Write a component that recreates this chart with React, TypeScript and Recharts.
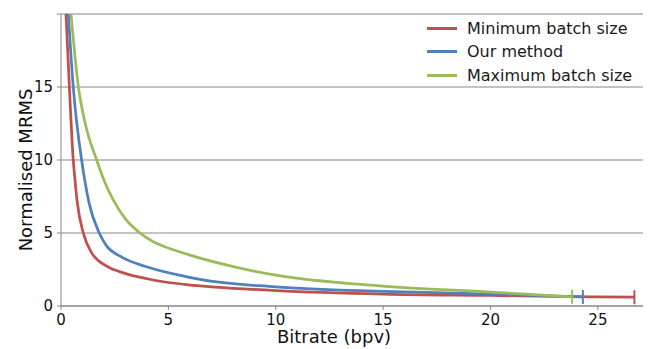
import React from 'react';
import { LineChart, Line, XAxis, YAxis, CartesianGrid, Legend, Label } from 'recharts';

const seriesNames = ['Minimum batch size', 'Our method', 'Maximum batch size'];
const seriesColors = ['#C0504D', '#4F81BD', '#9BBB59'];

const minBitrate = [0.233, 0.39, 0.57, 0.65, 0.76, 1.04, 1.43, 2.13, 2.9, 4.06, 5.93, 6.47, 7.17, 10, 15, 20, 23.8, 26.7];
const minMrms = [20, 15, 10, 8.66, 7.07, 5.0, 3.64, 2.73, 2.27, 1.85, 1.45, 1.38, 1.3, 1.06, 0.82, 0.72, 0.64, 0.6];

const ourBitrate = [0.34, 0.57, 0.96, 1.12, 1.3, 1.78, 2.13, 2.75, 4.06, 5.93, 6.47, 10, 15, 20, 24.3];
const ourMrms = [20, 15, 10, 8.5, 7.1, 5.0, 4.1, 3.41, 2.65, 1.98, 1.82, 1.31, 1.0, 0.82, 0.62];

const maxBitrate = [0.465, 0.81, 1.12, 1.66, 2.02, 2.44, 2.98, 3.68, 4.3, 5.0, 5.93, 7.17, 10, 15, 20, 23.8];
const maxMrms = [20, 15, 12.55, 10, 8.55, 7.25, 6.0, 5.0, 4.4, 3.97, 3.52, 3.0, 2.11, 1.36, 0.95, 0.63];

const xTicks = [0, 5, 10, 15, 20, 25];
const yTicks = [0, 5, 10, 15, 20];

const toData = (xs: number[], ys: number[]) => xs.map((x, i) => ({ x, y: ys[i] }));
const seriesData = [toData(minBitrate, minMrms), toData(ourBitrate, ourMrms), toData(maxBitrate, maxMrms)];

const FONT = '"DejaVu Sans", sans-serif';
const AXIS = '#868686';

const endMarker = (color: string, last: number) => (p: any) => {
  if (p.index !== last) return <g key={`d-${p.index}`} />;
  return (
    <line key={`d-${p.index}`} x1={p.cx} x2={p.cx} y1={p.cy - 7} y2={p.cy + 7} stroke={color} strokeWidth={2} />
  );
};

const LegendContent = () => (
  <div style={{ fontFamily: FONT, fontSize: 16, color: '#1a1a1a' }}>
    {seriesNames.map((n, i) => (
      <div key={n} style={{ display: 'flex', alignItems: 'center', height: 23.3 }}>
        <div style={{ width: 30, height: 3, background: seriesColors[i], marginRight: 10 }} />
        <span style={{ whiteSpace: 'nowrap' }}>{n}</span>
      </div>
    ))}
  </div>
);

export default function App() {
  return (
    <div style={{ position: 'absolute', left: 0, top: 0, background: '#fff' }}>
      <LineChart width={651} height={349} margin={{ top: 14, right: 8, left: 0, bottom: 0 }}>
        <CartesianGrid vertical={false} stroke={AXIS} strokeWidth={1} />
        <XAxis
          type="number"
          dataKey="x"
          domain={[0, 27.1]}
          ticks={xTicks}
          allowDataOverflow
          height={43}
          stroke={AXIS}
          tickSize={4}
          tickMargin={4}
          tick={{ fill: '#111', fontSize: 15, fontFamily: FONT }}
        >
          <Label
            content={() => (
              <text x={334} y={343} textAnchor="middle" fontFamily={FONT} fontSize={18} fill="#111">
                Bitrate (bpv)
              </text>
            )}
          />
        </XAxis>
        <YAxis
          type="number"
          domain={[0, 20]}
          ticks={yTicks}
          allowDataOverflow
          width={61}
          stroke={AXIS}
          tickSize={4}
          tickMargin={4}
          tickFormatter={(v: number) => (v === 20 ? '' : String(v))}
          tick={{ fill: '#111', fontSize: 15, fontFamily: FONT }}
        >
          <Label
            content={() => (
              <text
                x={25}
                y={170}
                textAnchor="middle"
                dominantBaseline="central"
                transform="rotate(-90 25 170)"
                fontFamily={FONT}
                fontSize={18}
                fill="#111"
              >
                Normalised MRMS
              </text>
            )}
          />
        </YAxis>
        <Legend
          layout="vertical"
          align="center"
          verticalAlign="middle"
          wrapperStyle={{ left: 427, top: 17, width: 220 }}
          content={() => <LegendContent />}
        />
        {seriesData.map((d, i) => (
          <Line
            key={seriesNames[i]}
            name={seriesNames[i]}
            data={d}
            dataKey="y"
            type="monotone"
            stroke={seriesColors[i]}
            strokeWidth={2.75}
            dot={endMarker(seriesColors[i], d.length - 1)}
            activeDot={false}
            isAnimationActive={false}
          />
        ))}
      </LineChart>
    </div>
  );
}
